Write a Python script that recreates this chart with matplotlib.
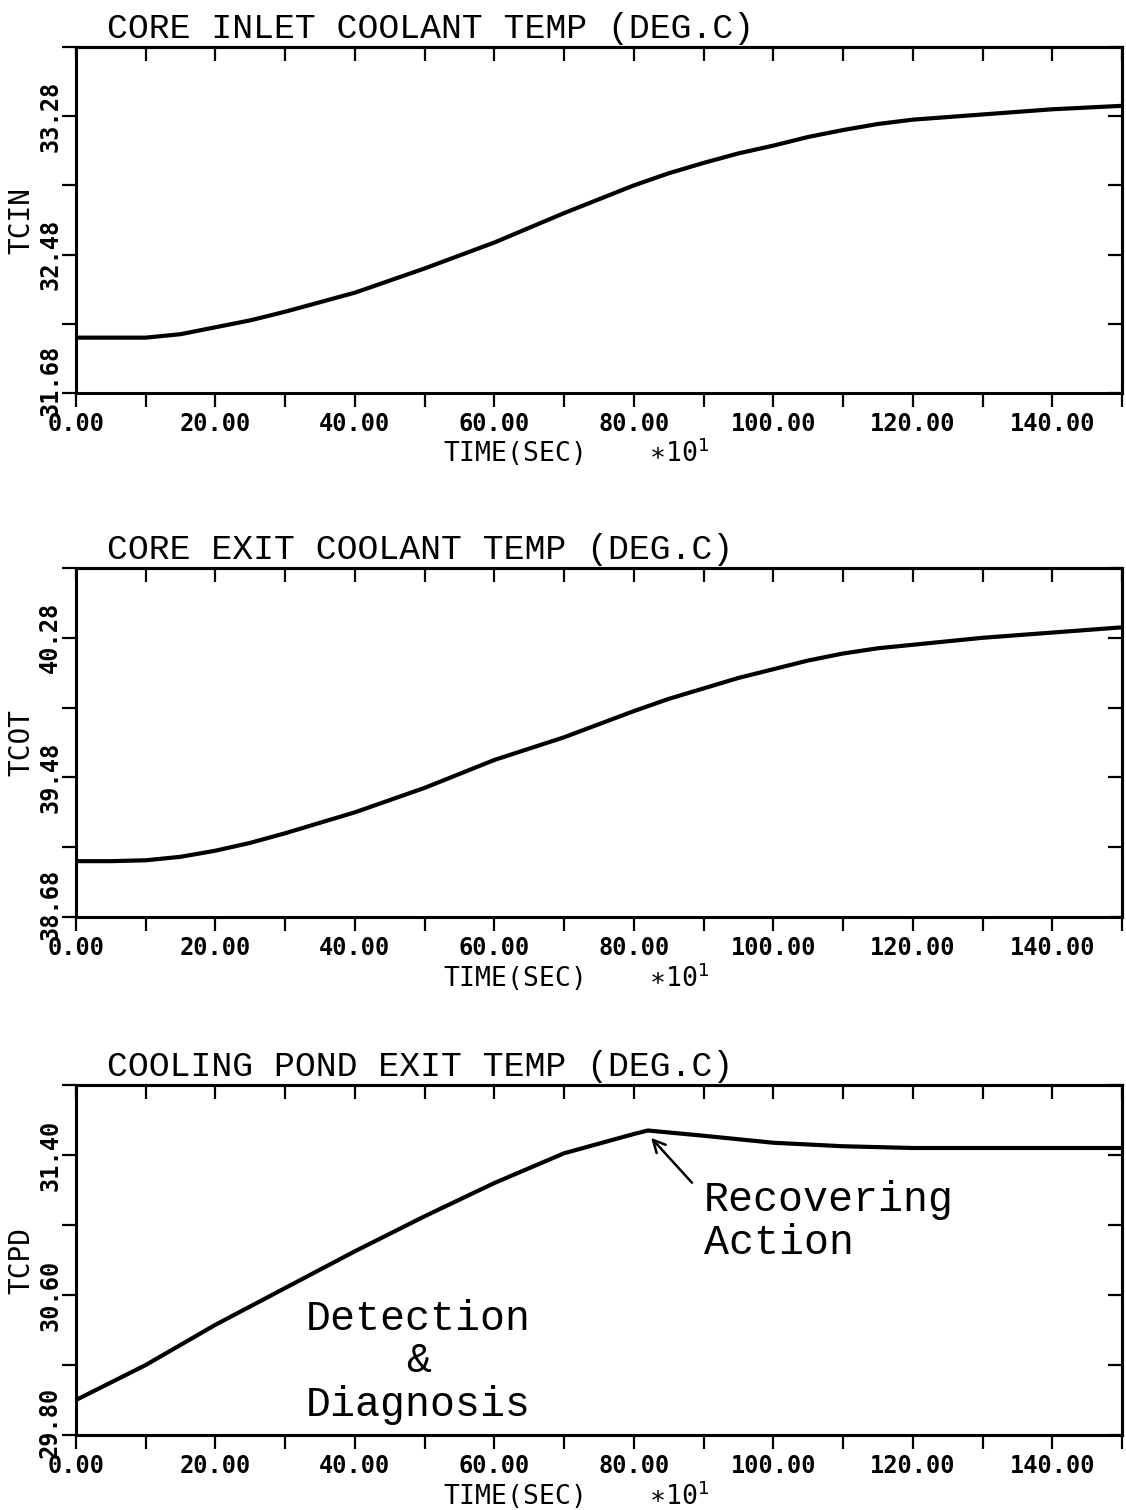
#!/usr/bin/env python

import numpy as np
import matplotlib
matplotlib.use("Agg")
import matplotlib.pyplot as plt
from matplotlib.transforms import ScaledTranslation


## values (time in units of 10 s)

time_core = [0, 5, 10, 15, 20, 25, 30, 40, 50, 60, 70, 80, 85, 90, 95, 100,
             105, 110, 115, 120, 130, 140, 150]
tcin = [32.00, 32.00, 32.00, 32.02, 32.06, 32.10, 32.15, 32.26, 32.40, 32.55,
        32.72, 32.88, 32.95, 33.01, 33.065, 33.11, 33.16, 33.20, 33.235, 33.26,
        33.29, 33.32, 33.34]
tcot = [39.00, 39.00, 39.005, 39.025, 39.06, 39.105, 39.16, 39.28, 39.42, 39.58,
        39.71, 39.86, 39.93, 39.99, 40.05, 40.10, 40.15, 40.19, 40.22, 40.24,
        40.28, 40.31, 40.34]

time_pond = [0, 10, 20, 30, 40, 50, 60, 70, 80, 82, 90, 100, 110, 120, 130, 140, 150]
tcpd = [30.00, 30.20, 30.43, 30.64, 30.85, 31.05, 31.24, 31.41, 31.52, 31.54,
        31.51, 31.47, 31.45, 31.44, 31.44, 31.44, 31.44]

titles = ["CORE INLET COOLANT TEMP (DEG.C)",
          "CORE EXIT COOLANT TEMP (DEG.C)",
          "COOLING POND EXIT TEMP (DEG.C)"]
ylabels = ["TCIN", "TCOT", "TCPD"]
ymins = [31.68, 38.68, 29.80]
xticks = list(range(0, 151, 10))

W, H = 1126, 1510
LEFT, RIGHT = 76, 1122
panel_px = [(47, 393), (568, 917), (1085, 1435)]   # top, bottom in pixels

TICKFONT = dict(family="DejaVu Sans Mono", size=17, weight="bold")
TYPEWRITER = "Liberation Mono"


def setup_panel(fig, ax, title, ylabel, ymin):
    yt = [ymin + 0.4 * k for k in range(6)]
    ax.set_xlim(0, 150)
    ax.set_ylim(ymin, ymin + 2.0)

    ax.set_xticks(xticks)
    ax.set_xticklabels(["%.2f" % t if t % 20 == 0 and t < 150 else "" for t in xticks],
                       fontdict=TICKFONT)
    ax.set_yticks(yt)
    ax.set_yticklabels(["%.2f" % v if k % 2 == 0 else "" for k, v in enumerate(yt)],
                       fontdict=TICKFONT, rotation=90, va="center")
    ax.tick_params(direction="out", length=10, width=1.6)
    ax.tick_params(axis="x", pad=4)
    ax.tick_params(axis="y", pad=0)

    # bottom y label sits a bit higher so it clears the 0.00 label
    lab = ax.get_yticklabels()[0]
    lab.set_transform(lab.get_transform() + ScaledTranslation(0, 0.13, fig.dpi_scale_trans))

    for sp in ax.spines.values():
        sp.set_linewidth(2.2)

    # inward ticks on top and right
    top = ax.secondary_xaxis("top")
    top.set_xticks(xticks)
    top.set_xticklabels([])
    top.tick_params(direction="in", length=10, width=1.6)
    top.spines["top"].set_linewidth(2.2)
    right = ax.secondary_yaxis("right")
    right.set_yticks(yt)
    right.set_yticklabels([])
    right.tick_params(direction="in", length=10, width=1.6)
    right.spines["right"].set_linewidth(2.2)

    ax.text(0.030, 1.026, title, transform=ax.transAxes, ha="left", va="baseline",
            family=TYPEWRITER, fontsize=25)
    ax.set_ylabel(ylabel, family="DejaVu Sans Mono", fontsize=20)
    ax.yaxis.set_label_coords(-0.039, 0.5)
    ax.text(0.351, -0.20, "TIME(SEC)    \u2217" + "10$^1$", transform=ax.transAxes,
            ha="left", va="baseline", family=["DejaVu Sans Mono", "DejaVu Sans"], fontsize=19)


def main():
    fig = plt.figure(figsize=(W / 100, H / 100), dpi=100)
    fig.patch.set_facecolor("white")

    axes = []
    for (ptop, pbot) in panel_px:
        rect = [LEFT / W, 1 - pbot / H, (RIGHT - LEFT) / W, (pbot - ptop) / H]
        axes.append(fig.add_axes(rect))

    series = [(time_core, tcin), (time_core, tcot), (time_pond, tcpd)]
    for ax, (t, v), title, ylab, ymin in zip(axes, series, titles, ylabels, ymins):
        setup_panel(fig, ax, title, ylab, ymin)
        ax.plot(t, v, color="black", linewidth=3.0, solid_capstyle="butt",
                solid_joinstyle="round")

    # annotations on the cooling pond panel
    ax3 = axes[2]
    ax3.annotate("", xy=(82.2, 31.51), xytext=(88.6, 31.23),
                 arrowprops=dict(arrowstyle="->", color="black", lw=1.8,
                                 mutation_scale=22))
    note = dict(family=TYPEWRITER, fontsize=30, va="center")
    ax3.text(90.0, 31.14, "Recovering", ha="left", **note)
    ax3.text(90.0, 30.90, "Action", ha="left", **note)
    ax3.text(32.9, 30.46, "Detection", ha="left", **note)
    ax3.text(49.1, 30.22, "&", ha="center", **note)
    ax3.text(32.9, 29.97, "Diagnosis", ha="left", **note)

    fig.savefig("out.png", dpi=100, facecolor="white")


if __name__ == "__main__":
    main()
